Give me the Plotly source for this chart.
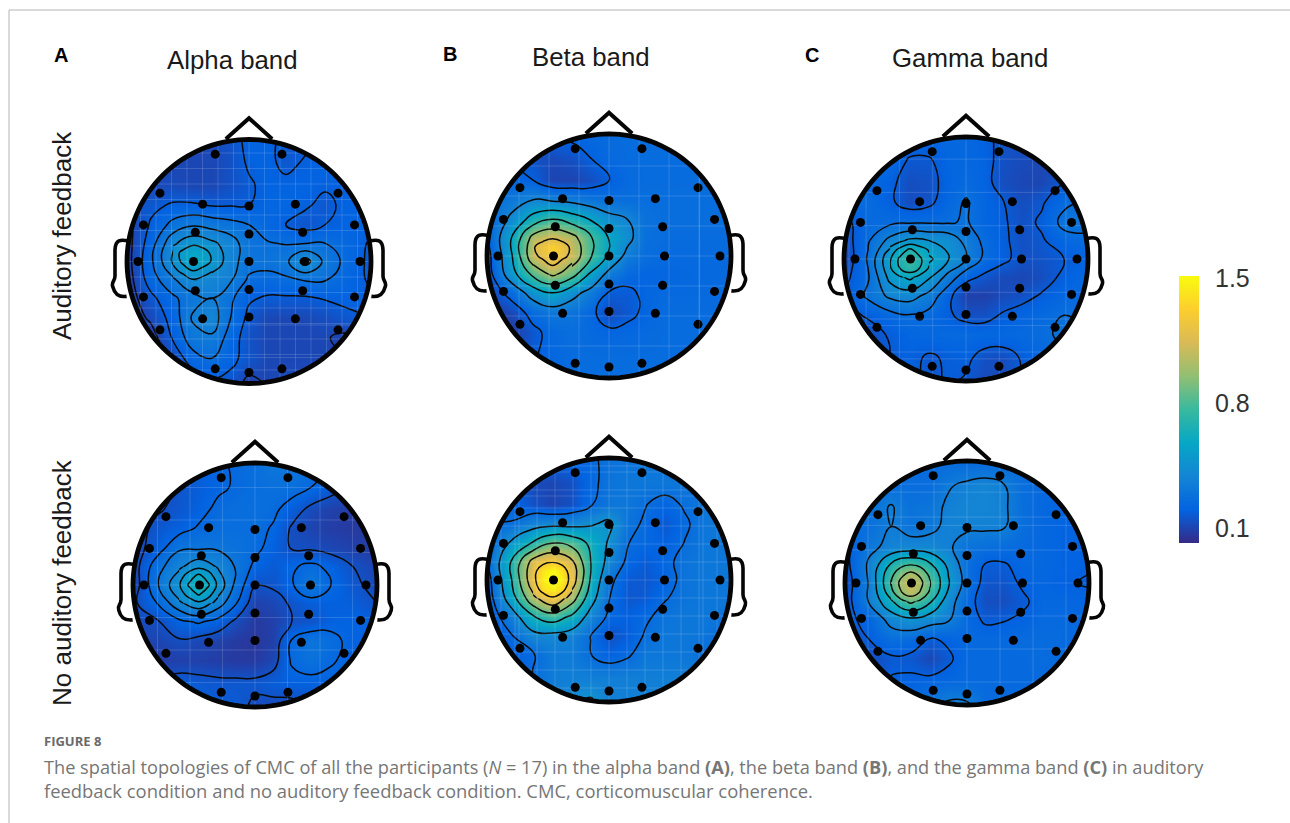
import numpy as np
import plotly.graph_objects as go

# normalised grid nodes (head radius = 1), values in hundredths of CMC, rows run nose -> back
nodes = [-1, -.8, -.62, -.46, -.3, -.15, 0, .15, .3, .46, .62, .8, 1]

alpha_fb = [
[19,19,19,19,20,23,28,28,24,24,27,27,27],
[19,19,19,19,19,22,27,28,24,27,28,28,28],
[20,20,20,19,19,22,25,28,28,28,27,27,27],
[22,24,27,27,25.5,25.5,26,29,29,27,24,28,28],
[16,27,36,40,38,36,33.5,30,26,23,26,28,28],
[15,30,47,54,50,45,36,34,33,33,33.5,30,25],
[15,32,50,64,55,44,37,36,39,52,39,31,24],
[14,30,39.5,48,44,42,32,31,32,34,34,29,25],
[14,24,32,38,41,35,27,25,25,25,26.5,28,27],
[13,20,29,42,45,33.5,24,19,19,19,21,24,26],
[13,15,27,38,40,30,22,19,19,19,19,17,22],
[13,13,20,30,33,28,23,19,19,19,19,19,20],
[13,13,15,20,24,23,16,19,20,20,20,20,20]]

beta_fb = [
[30,30,30,30,30,31,32,32,32,32,32,32,32],
[28,28,22,20,22,27,31,32,32,32,32,32,32],
[29,29,27,18,18,21,26.5,31,32,32,32,33,33],
[33,38,45,42,40,36,34,33,33,33,33,33,33],
[28,48,70,81,72,62,50,45,35,33,33,33,33],
[25,62,105,115,105,83,62,50,34,32,32,32,32],
[20,60,112,132,112,83,60,40,33,31,31,31,31],
[18,55,85,102,88,60,40,31,29,29,30,31,31],
[16,32,53,63,50,40,26,25,29,31,31,31,31],
[14,19,32,38,36,30,20,24,29,32,32,32,32],
[14,16,24,31,33,31,29,30,31,32,32,32,32],
[14,14,26,30,32,32,32,32,32,32,32,32,32],
[20,20,28,30,32,32,32,32,32,32,32,32,32]]

gamma_fb = [
[30,30,30,30,30,30,30,27,23,23,23,23,23],
[30,30,30,24,24,29,30,28,22,20,19,19,19],
[30,30,27,21,22,28,31,28,21,19,19,25,28],
[30,32,26.5,21,23,30,35,29,25.5,21,24,32,36],
[22,31,32,33,33,33,35,29,26,22,26.5,37,37],
[20,33,46,54,52,50,40,32,26.5,22,24,30,32],
[18,35,60,82,63,53,43,32,27,22,22.5,25,29],
[22,33,55,63,53,40,28,23,20,19,21,27,30],
[24,36,45,47,40,28,17,17,20,22,26,30,31],
[22,26,31,33.5,31,26.5,22,22,26,29,31,34,33],
[20,21,26,29,30,31,31,30,30,31,32,36,34],
[20,20,25,27,24,26,27,22,21,26,30,30,30],
[22,22,26,28,23,26,24,20,20,26,30,30,30]]

alpha_nofb = [
[22,24,26,27,29,31,34,38,38,35,31,28,26],
[20,20,23,26,28.5,31,33,34,34,30,25.5,21,20],
[19,21,24,27,32,33,34,32,26,20,17,16,16],
[18,24,27,31,33,33,33,29,21,18,16,15,15],
[18,26,37,37,37,35,32,27,21.5,21,19,17,15],
[17,35,44,52,45,37,28,25,29,32,28,22,18],
[16,37,53,72,52,35,22.5,23,29,39,30,24,19],
[20,30,44,52,42,30,17,19,23,26,27,26,22],
[20,21,28,31,27,20,15,17,22,23,27,28,27],
[18,18,21,19,17,15,14,17,31,37,33,27,27],
[16,16,17,17,16,15,15,19,31,35,31,27,27],
[22,24,26,25,24,24,24,26,27,27,27,27,27],
[26,26,26,25,25,25,20,19,19,22,26,26,26]]

beta_nofb = [
[30,30,30,30,30,31,35,36,36,36,36,36,36],
[28,28,20,19,22,30,36,38,38,38,38,38,38],
[30,30,22,18,22,31.5,37,38,33,29,34,38,38],
[33,33,44,46,46,50,56,36,31,24,31,38,38],
[28,55,74,92,85,68,50,33,30,27,33,38,38],
[30,72,118,129,114,72,46,30,25,30,36,38,38],
[24,70,125,156,122,70,36,25,24,28,36,38,38],
[22,62,105,128,100,60,33,24,25,32,36,38,38],
[22,42,70,82,68,45,30,27,31,36,38,38,34],
[20,31,46,46,43,32.5,22,26,34,38,38,36,30],
[20,27,31,40,40,33,28,31.5,38,38,38,33,30],
[22,22,34,40,42,42,42,42,42,42,42,42,42],
[30,30,38,42,50,55,42,42,42,42,42,42,42]]

gamma_nofb = [
[31,31,31,31,31,31,31,31,31,31,31,31,31],
[31,33,33,33,33,40,43,45,41.5,33,31,31,30],
[31,35,42,35,37,43,45,45,43,33,30,28,29],
[30,34,41,36,38,44,43,43,42,33,30,28,28],
[24,38,44,46,46,42.5,36,34,33,31,30,28,28],
[22,43,72,84,72,52,33,26,25.5,30,30,28,27],
[19,42,85,115,86,57,35,23,23,28,29,27,26],
[20,42,68,88,72,47,31,21,21,25,30,30,28],
[24,29,46,52,47,42,31,25,26,28,31,31,30],
[18,26.5,33,32,25.5,28,31,31,31,32,32,31,30],
[18,20,25,24,19,25,31,31,31,31,32,30,30],
[18,18,27,28,29,30,31,31,31,31,31,31,31],
[24,24,28,30,38,44,43,32,31,31,31,31,31]]

# finer read-off around the central peak of every map
patch_x = [-.62, -.54, -.46, -.38, -.3]
patch_y = [.15, .075, 0, -.075, -.15]
alpha_fb_peak = [[47,50,54,52,50],[52,58,62,60,54],[50,58,64,61,55],[46,51,56,53,49],[39.5,44,48,46,44]]
beta_fb_peak = [[105,111,115,111,105],[115,125,133,125,113],[112,122,130,122,112],[98,108,117.5,108,96],[85,94,102,95,88]]
gamma_fb_peak = [[46,50,54,53,52],[55,64,72,66,60],[60,72,82,72,63],[60,70,76,70,60],[55,60,63,58,53]]
alpha_nofb_peak = [[44,49,52,50,45],[50,58,64,58,49],[53,63,72,63,52],[50,57,63,57,48],[44,49,52,49,42]]
beta_nofb_peak = [[118,125,129,124,114],[124,142,150,140,120],[125,145,156,145,122],[120,138,145,137,115],[105,120,128,118,100]]
gamma_nofb_peak = [[72,80,84,80,72],[80,95,103,96,80],[85,103,115,103,86],[80,98,108,98,82],[68,80,88,82,72]]

panel_values = [alpha_fb, beta_fb, gamma_fb, alpha_nofb, beta_nofb, gamma_nofb]
panel_peaks = [alpha_fb_peak, beta_fb_peak, gamma_fb_peak, alpha_nofb_peak, beta_nofb_peak, gamma_nofb_peak]
level_start = [.185, .27, .25, .22, .326, .265]
level_size = [.075, .18, .09, .08, .196, .145]
centers = [(249, 261.5), (609, 256), (966, 259), (255, 585), (609, 580), (967, 583)]
grid_step = [15.5, 30, 33.3, 32.5, 18, 33]

electrode_x = [-.277, .27, -.73, -.38, 0, .38, .73, -.865, -.44, 0, .44, .865, -.91, -.455, 0, .455, .91,
               -.865, -.44, 0, .44, .865, -.73, -.38, 0, .38, .73, -.277, 0, .27]
electrode_y = [.88, .88, .56, .47, .455, .47, .56, .30, .24, .225, .24, .30, 0, 0, 0, 0, 0,
               -.29, -.24, -.23, -.24, -.29, -.56, -.47, -.455, -.47, -.56, -.88, -.91, -.88]

band_titles = ["Alpha band", "Beta band", "Gamma band"]
band_title_pos = [(232, 60), (591, 57), (970, 58)]
panel_letters = ["A", "B", "C"]
panel_letter_pos = [(61, 55), (450, 54), (812, 55)]
row_labels = ["Auditory feedback", "No auditory feedback"]
row_label_pos = [(62, 236), (62, 583)]
cbar_ticks = ["1.5", "0.8", "0.1"]
cbar_tick_y = [278, 403, 528]
parula = ["#352a87", "#0363e1", "#1485d4", "#06a7c6", "#38b99e", "#92bf73", "#d9ba56", "#fcce2e", "#f9fb0e"]

R = 122.0
GRID_R = 122.5
fig = go.Figure()
shapes = []
BLACK = "#050505"

def circle_path(cx, cy, r):
    t = np.linspace(0, 2 * np.pi, 145)[:-1]
    return "M" + "L".join(f"{cx + r * np.cos(a):.2f},{cy + r * np.sin(a):.2f}" for a in t) + "Z"

def ear_path(cx, cy, s):
    def p(a, b):
        return f"{cx + s * R * a:.1f},{cy - R * b:.1f}"
    return ("M" + p(-.995, .17) + "C" + p(-1.05, .18) + " " + p(-1.095, .18) + " " + p(-1.098, .095)
            + "L" + p(-1.098, -.12) + "C" + p(-1.098, -.165) + " " + p(-1.13, -.165) + " " + p(-1.117, -.205)
            + "C" + p(-1.103, -.26) + " " + p(-1.076, -.295) + " " + p(-1.003, -.286))

for c, z, pk, s0, ds, gs in zip(centers, panel_values, panel_peaks, level_start, level_size, grid_step):
    cx, cy = c
    levels = dict(coloring="heatmap", start=s0, end=s0 + 5 * ds + 1e-6, size=ds, showlines=True)
    line = dict(color="#0a0a0a", width=1.5, smoothing=1.3)
    fig.add_trace(go.Contour(
        x=[cx + GRID_R * n for n in nodes], y=[cy - GRID_R * n for n in nodes[::-1]],
        z=[[v / 100 for v in row] for row in z], coloraxis="coloraxis",
        contours=levels, line=line, hoverinfo="skip"))
    fig.add_trace(go.Contour(
        x=[cx + GRID_R * n for n in patch_x], y=[cy - GRID_R * n for n in patch_y],
        z=[[v / 100 for v in row] for row in pk], coloraxis="coloraxis",
        contours=levels, line=line, hoverinfo="skip"))
    # faint white raster lines
    gx, gy = [], []
    for k in np.arange(-8, 9) * gs:
        gx += [cx + k, cx + k, None, cx - R, cx + R, None]
        gy += [cy - R, cy + R, None, cy + k, cy + k, None]
    fig.add_trace(go.Scatter(x=gx, y=gy, mode="lines", line=dict(color="rgba(255,255,255,0.15)", width=1),
                             hoverinfo="skip", showlegend=False))
    fig.add_trace(go.Scatter(x=[cx + R * v for v in electrode_x], y=[cy - R * v for v in electrode_y],
                             mode="markers", marker=dict(color="#000000", size=9), hoverinfo="skip", showlegend=False))
    # mask outside of the head
    m = GRID_R + 3
    outer = f"M{cx - m},{cy - m}L{cx + m},{cy - m}L{cx + m},{cy + m}L{cx - m},{cy + m}Z"
    shapes.append(dict(type="path", path=outer + circle_path(cx, cy, R), fillcolor="white", fillrule="evenodd",
                       line=dict(width=0), layer="above"))
    # head outline, nose, ears
    shapes.append(dict(type="path", path=circle_path(cx, cy, R), line=dict(color=BLACK, width=4.8), layer="above"))
    nose = f"M{cx - .19 * R},{cy - 1.005 * R}L{cx},{cy - 1.175 * R}L{cx + .19 * R},{cy - 1.005 * R}"
    shapes.append(dict(type="path", path=nose, line=dict(color=BLACK, width=4), layer="above"))
    for sign in (1, -1):
        shapes.append(dict(type="path", path=ear_path(cx, cy, sign), line=dict(color=BLACK, width=3.6), layer="above"))

# page frame
shapes.append(dict(type="line", x0=9, x1=9, y0=10, y1=823, line=dict(color="#b4b4b4", width=1), layer="above"))
shapes.append(dict(type="line", x0=9, x1=1290, y0=10, y1=10, line=dict(color="#b4b4b4", width=1), layer="above"))

ann = []
def text(x, y, t, size, color="#1a1a1a", font="Liberation Sans", xanchor="center", angle=0):
    ann.append(dict(x=x, y=y, xref="x", yref="y", text=t, showarrow=False, xanchor=xanchor, yanchor="middle",
                    textangle=angle, font=dict(family=font, size=size, color=color)))

for t, p in zip(band_titles, band_title_pos):
    text(p[0], p[1], t, 25.8)
for t, p in zip(panel_letters, panel_letter_pos):
    text(p[0], p[1], f"<b>{t}</b>", 20, color="#000000")
for t, p in zip(row_labels, row_label_pos):
    text(p[0], p[1], t, 26, angle=-90)
for t, y in zip(cbar_ticks, cbar_tick_y):
    text(1213, y, t, 25, color="#333333", xanchor="left")
CAP = "#767676"
text(42, 741, "<b>FIGURE 8</b>", 13, color="#6a6a6a", font="Open Sans", xanchor="left")
text(42, 767, "The spatial topologies of CMC of all the participants (<i>N</i> = 17) in the alpha band <b>(A)</b>, "
     "the beta band <b>(B)</b>, and the gamma band <b>(C)</b> in auditory", 18.2, color=CAP, font="Open Sans", xanchor="left")
text(42, 790, "feedback condition and no auditory feedback condition. CMC, corticomuscular coherence.", 18.4,
     color=CAP, font="Open Sans", xanchor="left")

fig.update_layout(
    width=1290, height=823, autosize=False, paper_bgcolor="white", plot_bgcolor="white", showlegend=False,
    margin=dict(l=0, r=0, t=0, b=0, pad=0, autoexpand=False),
    xaxis=dict(range=[0, 1290], visible=False, domain=[0, 1], fixedrange=True),
    yaxis=dict(range=[823, 0], visible=False, domain=[0, 1], fixedrange=True),
    shapes=shapes, annotations=ann,
    coloraxis=dict(cmin=.1, cmax=1.5, colorscale=[[i / 8, c] for i, c in enumerate(parula)],
                   colorbar=dict(x=1179 / 1290, xanchor="left", y=1 - 543 / 823, yanchor="bottom",
                                 thickness=20, thicknessmode="pixels", len=267, lenmode="pixels",
                                 xpad=0, ypad=0, outlinewidth=0, ticks="", showticklabels=False)))
fig.write_html("out.html", config=dict(displayModeBar=False),
               post_script="document.body.style.margin='0';document.documentElement.style.overflow='hidden';")
